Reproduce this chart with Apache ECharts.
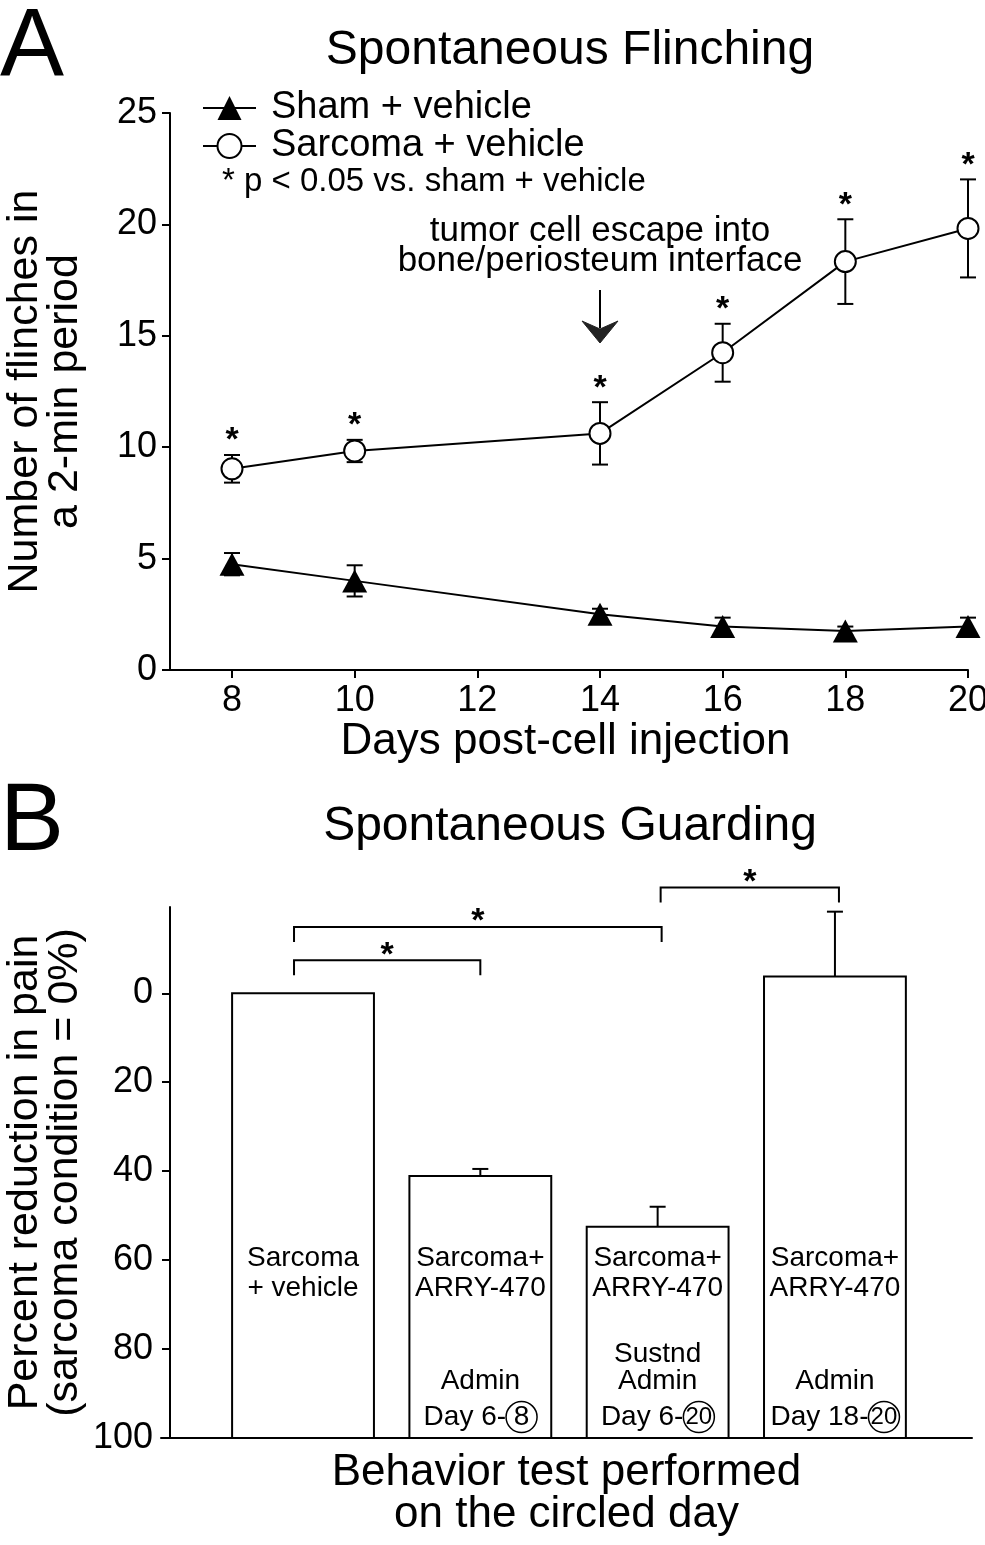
<!DOCTYPE html>
<html><head><meta charset="utf-8">
<script src="https://cdn.jsdelivr.net/npm/echarts@6/dist/echarts.min.js"></script>
<style>html,body{margin:0;padding:0;background:#fff}#c{width:985px;height:1545px}</style>
</head><body><div id="c"></div>
<script>
// ---------- Panel A data ----------
const days = [8, 10, 14, 16, 18, 20];
const shamMean = [4.75, 4.0, 2.5, 1.95, 1.75, 1.95];
const shamErr = [0.5, 0.7, 0.25, 0.4, 0.2, 0.4];
const sarcomaMean = [9.03, 9.83, 10.62, 14.24, 18.33, 19.82];
const sarcomaErr = [0.62, 0.5, 1.4, 1.3, 1.9, 2.2];
const sarcomaSig = [1, 1, 1, 1, 1, 1];
const xTicksA = [8, 10, 12, 14, 16, 18, 20];
const yTicksA = [0, 5, 10, 15, 20, 25];

// ---------- Panel B data ----------
const groupIdx = [1, 2, 3, 4];
const barValues = [0, 41.1, 52.5, -3.75];
const barErr = [0, 1.6, 4.5, 14.6];
const barLine1 = ['Sarcoma', 'Sarcoma+', 'Sarcoma+', 'Sarcoma+'];
const barLine2 = ['+ vehicle', 'ARRY-470', 'ARRY-470', 'ARRY-470'];
const barAdmin = ['', 'Admin', 'Sustnd\nAdmin', 'Admin'];
const barDayFrom = ['', 'Day 6-', 'Day 6-', 'Day 18-'];
const barDayTo = ['', '8', '20', '20'];
const sigPairs = [[1, 2], [1, 3], [3, 4]];
const yTicksB = [0, 20, 40, 60, 80, 100];

const FONT = "'Liberation Sans', Arial, Helvetica, sans-serif";
const chart = echarts.init(document.getElementById('c'), null, {renderer: 'canvas'});

function errRender(params, api) {
  const x = api.value(0), m = api.value(1), e = api.value(2), s = api.value(3);
  const pt = api.coord([x, m + e]);
  const pb = api.coord([x, m - e]);
  const st = {stroke: '#000', lineWidth: 2};
  const ch = [
    {type: 'line', shape: {x1: pt[0], y1: pt[1], x2: pb[0], y2: pb[1]}, style: st},
    {type: 'line', shape: {x1: pt[0] - 8, y1: pt[1], x2: pt[0] + 8, y2: pt[1]}, style: st},
    {type: 'line', shape: {x1: pb[0] - 8, y1: pb[1], x2: pb[0] + 8, y2: pb[1]}, style: st}
  ];
  if (s) {
    ch.push({type: 'text', x: pt[0], y: pt[1] - 14,
      style: {text: '*', font: 'bold 34px ' + FONT, fill: '#000', align: 'center', verticalAlign: 'middle'}});
  }
  return {type: 'group', children: ch};
}

function barRender(params, api) {
  const i = params.dataIndex;
  const x = api.value(0), v = api.value(1), e = api.value(2);
  const top = api.coord([x, v]);
  const bot = api.coord([x, 100]);
  const w = api.size([1, 0])[0] * 0.8;
  const st = {stroke: '#000', lineWidth: 2};
  const ch = [];
  if (e > 0) {
    const p = api.coord([x, v - e]);
    ch.push({type: 'line', shape: {x1: top[0], y1: top[1], x2: p[0], y2: p[1]}, style: st});
    ch.push({type: 'line', shape: {x1: p[0] - 8, y1: p[1], x2: p[0] + 8, y2: p[1]}, style: st});
  }
  ch.push({type: 'rect', shape: {x: top[0] - w / 2, y: top[1], width: w, height: bot[1] - top[1]},
    style: {fill: '#fff', stroke: '#000', lineWidth: 2}});
  const t1 = api.coord([x, 62.9]);
  ch.push({type: 'text', x: t1[0], y: t1[1], style: {text: barLine1[i] + '\n' + barLine2[i],
    font: '28px ' + FONT, lineHeight: 30, fill: '#000', align: 'center', verticalAlign: 'middle'}});
  if (barAdmin[i]) {
    const t2 = api.coord([x, 90.3]);
    ch.push({type: 'text', x: t2[0], y: t2[1], style: {text: barAdmin[i],
      font: '28px ' + FONT, lineHeight: 27, fill: '#000', align: 'center', verticalAlign: 'bottom'}});
  }
  if (barDayFrom[i]) {
    const t3 = api.coord([x, 95.3]);
    ch.push({type: 'text', x: t3[0], y: t3[1], style: {
      text: '{a|' + barDayFrom[i] + '}{c|' + barDayTo[i] + '}',
      align: 'center', verticalAlign: 'middle',
      rich: {
        a: {font: '28px ' + FONT, fill: '#000', lineHeight: 32},
        c: {font: (barDayTo[i].length > 1 ? '24px ' : '28px ') + FONT, fill: '#000', width: 31, height: 31, lineHeight: 31,
            align: 'center', verticalAlign: 'middle', borderColor: '#000', borderWidth: 1.5, borderRadius: 16}
      }}});
  }
  return {type: 'group', children: ch};
}

function bracketRender(params, api) {
  const i = params.dataIndex;
  const a = api.value(0), b = api.value(1);
  const levels = [-7.4, -14.9, -23.8];
  const ly = api.coord([a, levels[i]])[1];
  const xa = api.coord([a, 0])[0] + (a === 1 ? -9 : 3);
  const xb = api.coord([b, 0])[0] + (b === 2 ? 0 : 4);
  const st = {stroke: '#000', lineWidth: 2};
  return {type: 'group', children: [
    {type: 'polyline', shape: {points: [[xa, ly + 15], [xa, ly], [xb, ly], [xb, ly + 15]]}, style: Object.assign({fill: null}, st)},
    {type: 'text', x: (xa + xb) / 2, y: ly - 5, style: {text: '*', font: 'bold 34px ' + FONT, fill: '#000', align: 'center', verticalAlign: 'middle'}}
  ]};
}

const axisLineStyle = {show: true, onZero: false, lineStyle: {color: '#000', width: 2}};

const option = {
  animation: false,
  backgroundColor: '#fff',
  textStyle: {fontFamily: FONT, color: '#000'},
  grid: [
    {left: 163, right: 17, top: 113, bottom: 875, containLabel: false, outerBoundsMode: 'none'},
    {left: 161, right: 13, top: 907, bottom: 107, containLabel: false, outerBoundsMode: 'none'}
  ],
  legend: {
    show: true, orient: 'vertical', left: 202, top: 89, itemGap: 0, padding: 0,
    itemWidth: 53, itemHeight: 30,
    data: ['Sham + vehicle', 'Sarcoma + vehicle'],
    textStyle: {fontFamily: FONT, fontSize: 38, color: '#000', lineHeight: 36, padding: [0, 0, 0, 10]}
  },
  xAxis: [
    {type: 'value', gridIndex: 0, min: 6.875, max: 20,
     axisLine: axisLineStyle,
     axisTick: {show: true, customValues: xTicksA, length: 8, inside: false, lineStyle: {color: '#000', width: 2}},
     axisLabel: {show: true, customValues: xTicksA, fontSize: 36, color: '#000', margin: 13, fontFamily: FONT},
     splitLine: {show: false},
     name: 'Days post-cell injection', nameLocation: 'middle', nameGap: 50, nameMoveOverlap: false,
     nameTextStyle: {fontSize: 44, color: '#000', fontFamily: FONT, lineHeight: 44}},
    {type: 'value', gridIndex: 1, min: 0.199, max: 4.773,
     axisLine: axisLineStyle,
     axisTick: {show: false}, axisLabel: {show: false}, splitLine: {show: false},
     name: 'Behavior test performed\non the circled day', nameLocation: 'middle', nameGap: 14, nameMoveOverlap: false,
     nameTextStyle: {fontSize: 44, color: '#000', fontFamily: FONT, lineHeight: 42, verticalAlign: 'top'}}
  ],
  yAxis: [
    {type: 'value', gridIndex: 0, min: 0, max: 25, interval: 5, offset: -7,
     axisLine: axisLineStyle,
     axisTick: {show: true, length: 8, inside: false, lineStyle: {color: '#000', width: 2}},
     axisLabel: {show: true, fontSize: 36, color: '#000', margin: 13, fontFamily: FONT},
     splitLine: {show: false},
     name: 'Number of flinches in\na 2-min period', nameLocation: 'middle', nameRotate: 90, nameGap: 85, nameMoveOverlap: false,
     nameTextStyle: {fontSize: 43, color: '#000', fontFamily: FONT, lineHeight: 40}},
    {type: 'value', gridIndex: 1, min: -19.4, max: 100, inverse: true, offset: -9,
     axisLine: axisLineStyle,
     axisTick: {show: true, customValues: yTicksB, length: 8, inside: false, lineStyle: {color: '#000', width: 2}},
     axisLabel: {show: true, customValues: yTicksB, fontSize: 36, color: '#000', margin: 17, fontFamily: FONT},
     splitLine: {show: false},
     name: 'Percent reduction in pain\n(sarcoma condition = 0%)', nameLocation: 'middle', nameRotate: 90, nameGap: 85, nameMoveOverlap: false,
     nameTextStyle: {fontSize: 43, color: '#000', fontFamily: FONT, lineHeight: 40}}
  ],
  series: [
    {type: 'custom', name: 'shamErr', xAxisIndex: 0, yAxisIndex: 0, z: 1, renderItem: errRender,
     data: days.map((d, i) => [d, shamMean[i], shamErr[i], 0])},
    {type: 'custom', name: 'sarcomaErr', xAxisIndex: 0, yAxisIndex: 0, z: 1, renderItem: errRender,
     data: days.map((d, i) => [d, sarcomaMean[i], sarcomaErr[i], sarcomaSig[i]])},
    {type: 'line', name: 'Sham + vehicle', xAxisIndex: 0, yAxisIndex: 0, z: 3,
     data: days.map((d, i) => [d, shamMean[i]]),
     symbol: 'triangle', symbolSize: [25, 23], showAllSymbol: true,
     itemStyle: {color: '#000', borderColor: '#000', borderWidth: 0, opacity: 1},
     lineStyle: {color: '#000', width: 2}},
    {type: 'line', name: 'Sarcoma + vehicle', xAxisIndex: 0, yAxisIndex: 0, z: 3,
     data: days.map((d, i) => [d, sarcomaMean[i]]),
     symbol: 'circle', symbolSize: 21, showAllSymbol: true,
     itemStyle: {color: '#fff', borderColor: '#000', borderWidth: 2, opacity: 1},
     lineStyle: {color: '#000', width: 2}},
    {type: 'custom', name: 'bars', xAxisIndex: 1, yAxisIndex: 1, z: 2, clip: false, renderItem: barRender,
     data: groupIdx.map((g, i) => [g, barValues[i], barErr[i]])},
    {type: 'custom', name: 'brackets', xAxisIndex: 1, yAxisIndex: 1, z: 2, clip: false, renderItem: bracketRender,
     data: sigPairs.map(p => [p[0], p[1]])}
  ],
  graphic: [
    {type: 'text', x: 0, y: 49, style: {text: 'A', font: '96px ' + FONT, fill: '#000', align: 'left', verticalAlign: 'middle'}},
    {type: 'text', x: 0, y: 824, style: {text: 'B', font: '96px ' + FONT, fill: '#000', align: 'left', verticalAlign: 'middle'}},
    {type: 'text', x: 570, y: 51, style: {text: 'Spontaneous Flinching', font: '48px ' + FONT, fill: '#000', align: 'center', verticalAlign: 'middle'}},
    {type: 'text', x: 570, y: 827, style: {text: 'Spontaneous Guarding', font: '48px ' + FONT, fill: '#000', align: 'center', verticalAlign: 'middle'}},
    {type: 'text', x: 222, y: 182, style: {text: '* p < 0.05 vs. sham + vehicle', font: '33px ' + FONT, fill: '#000', align: 'left', verticalAlign: 'middle'}},
    {type: 'text', x: 600, y: 246, style: {text: 'tumor cell escape into\nbone/periosteum interface', font: '35px ' + FONT, lineHeight: 30, fill: '#000', align: 'center', verticalAlign: 'middle'}},
    {type: 'line', shape: {x1: 600, y1: 290, x2: 600, y2: 328}, style: {stroke: '#000', lineWidth: 2}},
    {type: 'polygon', shape: {points: [[582, 321], [600, 329], [618, 321], [600, 343]]}, style: {fill: '#222', stroke: '#222', lineWidth: 1}}
  ]
};
chart.setOption(option);
</script>
</body></html>
